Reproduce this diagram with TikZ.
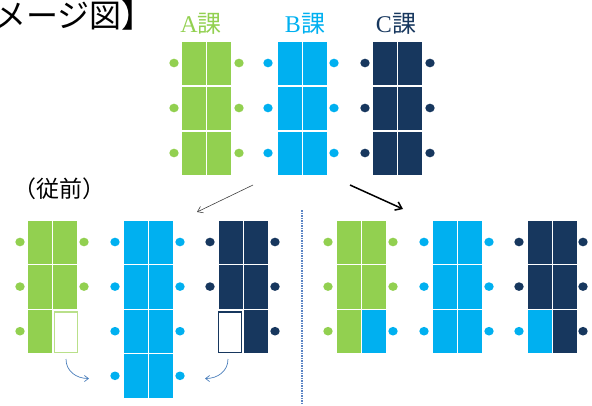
\documentclass[tikz,border=0pt]{standalone}
\usepackage{fontspec}
\setmainfont{Liberation Serif}
\newfontfamily\jp{Noto Sans CJK JP}
\usetikzlibrary{arrows.meta}
\definecolor{cgreen}{HTML}{92D050}
\definecolor{cgreenl}{HTML}{B9E08A}
\definecolor{ccyan}{HTML}{00B0F0}
\definecolor{cnavy}{HTML}{17375E}
\definecolor{cdash}{HTML}{5B84C4}
\definecolor{carc}{HTML}{4A7EBB}
\definecolor{cthin}{HTML}{404040}
\tikzset{
  deskbox/.style={fill=#1, draw=white, line width=1.2pt},
  seatdot/.style={fill=#1, draw=none},
  emptybox/.style={fill=white, draw=#1, line width=1.1pt},
  lbl/.style={anchor=base, font=\fontsize{24}{24}\selectfont},
  arcarrow/.style={draw=carc, line width=0.7pt, -{Straight Barb[length=4pt,width=6pt]}},
}
\newcommand\mydesk[3]{\path[deskbox=#3] (#1,#2) rectangle ++(25.5,44.6);}
\newcommand\myseat[3]{\path[seatdot=#3] (#1,#2) ellipse [x radius=4.7pt, y radius=4.3pt];}
\begin{document}
\begin{tikzpicture}[x=1pt,y=-1pt]
\useasboundingbox (0,0) rectangle (592,405);
% title
\node[anchor=base west, inner sep=0, font=\jp\fontsize{32}{32}\selectfont] (title) at (-6,27) {メージ図】};
% labels
\node[lbl, text=cgreen] (la) at (201,32.5) {A{\jp 課}};
\node[lbl, text=ccyan] (lb) at (305,32.5) {B{\jp 課}};
\node[lbl, text=cnavy] (lc) at (396,32.5) {C{\jp 課}};
\node[anchor=base west, inner sep=0, font=\jp\fontsize{23}{23}\selectfont] (prev) at (13,197) {（従前）};
% ---- top group
\foreach \r in {0,1,2}{
  \pgfmathsetmacro\yy{41+45*\r}
  \pgfmathsetmacro\yc{\yy+22}
  \mydesk{181}{\yy}{cgreen}\mydesk{206.5}{\yy}{cgreen}
  \mydesk{277}{\yy}{ccyan}\mydesk{302.5}{\yy}{ccyan}
  \mydesk{372}{\yy}{cnavy}\mydesk{397.5}{\yy}{cnavy}
  \myseat{174}{\yc}{cgreen}\myseat{239}{\yc}{cgreen}
  \myseat{268}{\yc}{ccyan}\myseat{334}{\yc}{ccyan}
  \myseat{365}{\yc}{cnavy}\myseat{430}{\yc}{cnavy}
}
% arrows from top
\coordinate (t1s) at (253,185); \coordinate (t1e) at (197,212);
\coordinate (t2s) at (350,185); \coordinate (t2e) at (403,209);
\draw[cthin, line width=0.6pt, -{Straight Barb[length=5pt,width=7pt]}] (t1s) -- (t1e);
\draw[black, line width=1.5pt, -{Straight Barb[length=6pt,width=9pt]}] (t2s) -- (t2e);
% divider
\coordinate (d1) at (302,210); \coordinate (d2) at (302,403);
\draw[cdash, line width=1.2pt, dash pattern=on 1.5pt off 1pt] (d1) -- (d2);
% ---- bottom left
\foreach \r in {0,1,2,3}{
  \pgfmathsetmacro\yy{220+44.6*\r}
  \pgfmathsetmacro\yc{\yy+22}
  \mydesk{123}{\yy}{ccyan}\mydesk{148.5}{\yy}{ccyan}
  \myseat{115}{\yc}{ccyan}\myseat{180}{\yc}{ccyan}
}
\foreach \r in {0,1}{
  \pgfmathsetmacro\yy{220+44.6*\r}
  \pgfmathsetmacro\yc{\yy+22}
  \mydesk{27}{\yy}{cgreen}\mydesk{52.5}{\yy}{cgreen}
  \mydesk{218}{\yy}{cnavy}\mydesk{243.5}{\yy}{cnavy}
  \myseat{20}{\yc}{cgreen}\myseat{84}{\yc}{cgreen}
  \myseat{210}{\yc}{cnavy}\myseat{275}{\yc}{cnavy}
}
\mydesk{27}{309.2}{cgreen}
\path[emptybox=cgreenl] (54.5,312) rectangle (77.5,352.5);
\myseat{20}{331.2}{cgreen}
\path[emptybox=cnavy] (218.5,312) rectangle (241.5,352.5);
\mydesk{243.5}{309.2}{cnavy}
\myseat{275}{331.2}{cnavy}
% curved arrows
\coordinate (c1s) at (66,359); \coordinate (c1e) at (89,378.5);
\coordinate (c2s) at (228,359); \coordinate (c2e) at (205,378.5);
\draw[arcarrow] (c1s) .. controls (66,371) and (76,378.5) .. (c1e);
\draw[arcarrow] (c2s) .. controls (228,371) and (218,378.5) .. (c2e);
% ---- bottom right
\foreach \r in {0,1,2}{
  \pgfmathsetmacro\yy{220+44.6*\r}
  \pgfmathsetmacro\yc{\yy+22}
  \mydesk{336}{\yy}{cgreen}
  \mydesk{432}{\yy}{ccyan}\mydesk{457.5}{\yy}{ccyan}
  \mydesk{552.5}{\yy}{cnavy}
  \myseat{328}{\yc}{cgreen}
  \myseat{424}{\yc}{ccyan}\myseat{489}{\yc}{ccyan}
  \myseat{583}{\yc}{cnavy}
}
\foreach \r in {0,1}{
  \pgfmathsetmacro\yy{220+44.6*\r}
  \pgfmathsetmacro\yc{\yy+22}
  \mydesk{361.5}{\yy}{cgreen}
  \mydesk{527}{\yy}{cnavy}
  \myseat{393}{\yc}{cgreen}
  \myseat{519}{\yc}{cnavy}
}
\mydesk{361.5}{309.2}{ccyan}
\mydesk{527}{309.2}{ccyan}
\myseat{393}{331.2}{ccyan}
\myseat{519}{331.2}{ccyan}
\end{tikzpicture}
\end{document}
